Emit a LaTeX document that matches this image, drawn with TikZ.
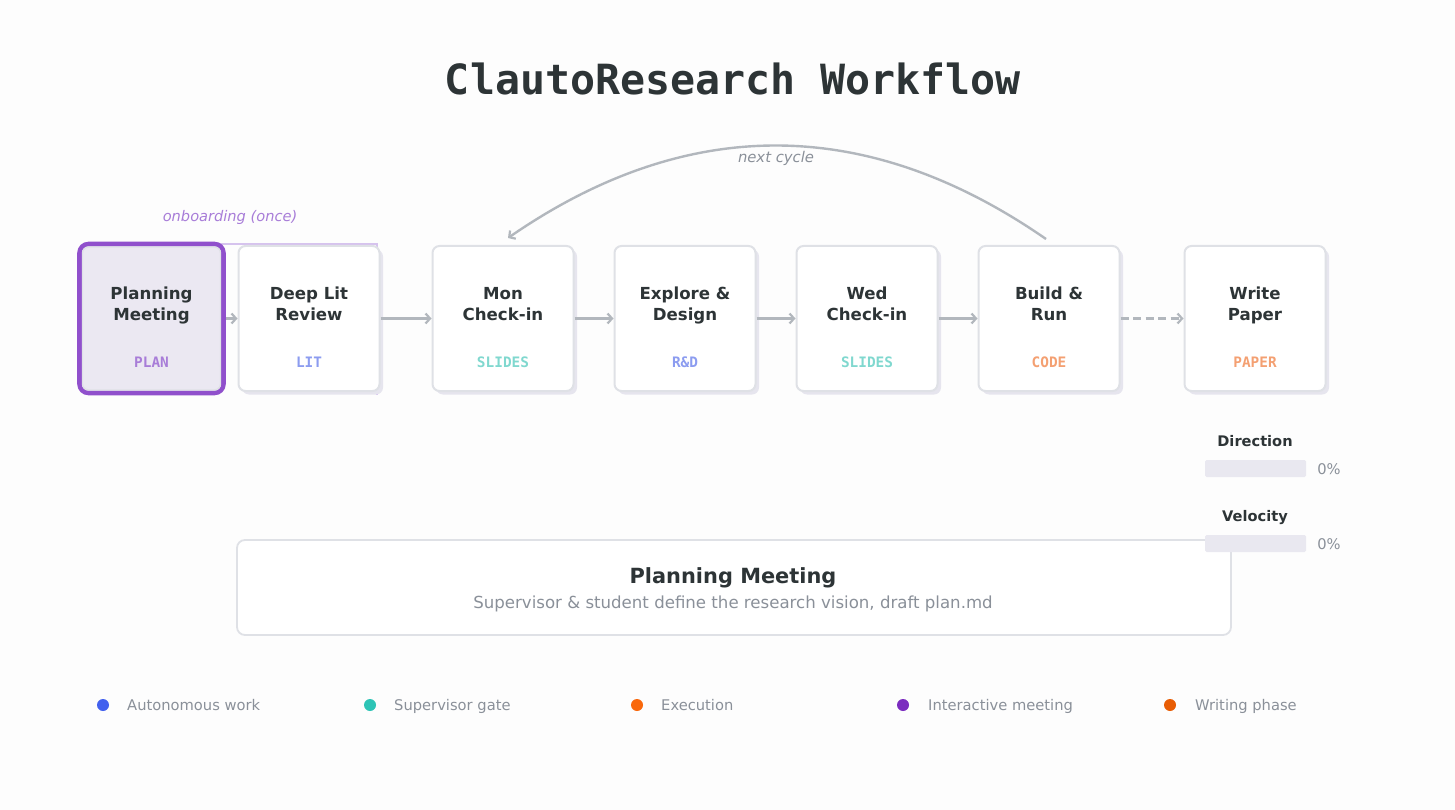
\documentclass[tikz,border=0pt]{standalone}
\usepackage{fontspec}
\setmainfont{DejaVu Sans}
\newfontfamily\monofont{DejaVu Sans Mono}
\usetikzlibrary{arrows.meta}
\definecolor{bg}{HTML}{FDFDFD}
\definecolor{ink}{HTML}{2D3436}
\definecolor{arrowgray}{HTML}{B2B7BD}
\definecolor{textgray}{HTML}{8A9099}
\definecolor{boxline}{HTML}{DFE1E6}
\definecolor{shadowc}{HTML}{E6E5EE}
\definecolor{planfill}{HTML}{EBE8F2}
\definecolor{planborder}{HTML}{9050CC}
\definecolor{onboard}{HTML}{A87DD8}
\definecolor{onboardline}{HTML}{D6C3EE}
\definecolor{tagplan}{HTML}{A87DD8}
\definecolor{tagblue}{HTML}{8C9CF0}
\definecolor{tagteal}{HTML}{80D8CF}
\definecolor{tagorange}{HTML}{F4A072}
\definecolor{barfill}{HTML}{E9E8F0}
\definecolor{lgblue}{HTML}{4361EE}
\definecolor{lgteal}{HTML}{2EC4B6}
\definecolor{lgorange}{HTML}{F9680C}
\definecolor{lgpurple}{HTML}{7B2CBF}
\definecolor{lgwrite}{HTML}{E85D04}
\tikzset{
  stagebox/.style={draw=boxline, line width=2pt, fill=white, rounded corners=7pt,
    minimum width=141pt, minimum height=145pt, inner sep=0pt},
  shadowbox/.style={fill=shadowc, rounded corners=7pt,
    minimum width=141pt, minimum height=145pt, inner sep=0pt},
  stagetitle/.style={font=\fontsize{16.6}{21}\selectfont\bfseries, text=ink, align=center, inner sep=0pt, anchor=base},
  stagetag/.style={font=\fontsize{14.4}{16}\selectfont\monofont\bfseries, inner sep=0pt, anchor=base},
  flow/.style={draw=arrowgray, line width=2.4pt, -{Straight Barb[length=4.5pt,width=10pt,line width=2.2pt]}},
  legendtext/.style={font=\fontsize{14.7}{16}\selectfont, text=textgray, anchor=base west, inner sep=0pt},
  dot/.style={circle, inner sep=0pt, minimum size=12pt},
  bar/.style={fill=barfill, rounded corners=1.5pt, minimum width=101pt, minimum height=17pt, inner sep=0pt},
  pct/.style={font=\fontsize{14.7}{16}\selectfont, text=textgray, inner sep=0pt, anchor=base},
  paneltitle/.style={font=\fontsize{14.6}{16}\selectfont\bfseries, text=ink, inner sep=0pt, anchor=base}
}
\begin{document}
\begin{tikzpicture}[x=1pt,y=-1pt]
\useasboundingbox (0,0) rectangle (1455,810);
\fill[bg] (0,0) rectangle (1455,810);

% title
\node[font=\fontsize{41.6}{48}\selectfont\monofont\bfseries, text=ink, inner sep=0pt, anchor=base] (title) at (733,95) {ClautoResearch Workflow};

% onboarding bracket
\coordinate (ob1) at (151,244);
\coordinate (ob2) at (377,244);
\coordinate (ob3) at (377,395);
\draw[onboardline, line width=2pt] (ob1) -- (ob2) -- (ob3);
\node[font=\fontsize{14.6}{16}\selectfont\itshape, text=onboard, inner sep=0pt, anchor=base] (onb) at (230,222) {onboarding (once)};

% shadows
\foreach \n/\x in {s2/309, s3/503, s4/685, s5/867, s6/1049, s7/1255}{
  \node[shadowbox] (\n) at (\x+3.5,322) {};
}

% planning box
\node[draw=planborder, line width=4.6pt, fill=planfill, rounded corners=9pt,
  minimum width=144pt, minimum height=149pt, inner sep=0pt] (plan) at (151.5,318.5) {};
\node[draw=boxline, line width=1.4pt, rounded corners=6pt,
  minimum width=138pt, minimum height=143pt, inner sep=0pt] (planin) at (151.5,318.5) {};

% stage boxes
\node[stagebox] (lit) at (309,318.5) {};
\node[stagebox] (mon) at (503,318.5) {};
\node[stagebox] (exp) at (685,318.5) {};
\node[stagebox] (wed) at (867,318.5) {};
\node[stagebox] (build) at (1049,318.5) {};
\node[stagebox] (write) at (1255,318.5) {};

% titles (base = baseline of last line)
\node[stagetitle] (t1) at (151.5,320) {Planning\\Meeting};
\node[stagetitle] (t2) at (309,320) {Deep Lit\\Review};
\node[stagetitle] (t3) at (503,320) {Mon\\Check-in};
\node[stagetitle] (t4) at (685,320) {Explore \&\\Design};
\node[stagetitle] (t5) at (867,320) {Wed\\Check-in};
\node[stagetitle] (t6) at (1049,320) {Build \&\\Run};
\node[stagetitle] (t7) at (1255,320) {Write\\Paper};

% tags
\node[stagetag, text=tagplan] (g1) at (151.5,367) {PLAN};
\node[stagetag, text=tagblue] (g2) at (309,367) {LIT};
\node[stagetag, text=tagteal] (g3) at (503,367) {SLIDES};
\node[stagetag, text=tagblue] (g4) at (685,367) {R\&D};
\node[stagetag, text=tagteal] (g5) at (867,367) {SLIDES};
\node[stagetag, text=tagorange] (g6) at (1049,367) {CODE};
\node[stagetag, text=tagorange] (g7) at (1255,367) {PAPER};

% flow arrows
\draw[flow] (plan.east) -- (lit.west);
\draw[flow] (lit.east) -- (mon.west);
\draw[flow] (mon.east) -- (exp.west);
\draw[flow] (exp.east) -- (wed.west);
\draw[flow] (wed.east) -- (build.west);
\draw[flow, dash pattern=on 8pt off 4.5pt] (build.east) -- (write.west);

% next cycle
\coordinate (c0) at (1046,239);
\coordinate (c1) at (508,238);
\draw[flow] (c0) .. controls (867,115) and (687,114.5) .. (c1);
\node[font=\fontsize{14.8}{16}\selectfont\itshape, text=textgray, inner sep=0pt, anchor=base] (nc) at (776,163) {next cycle};

% right panel
\node[paneltitle] (dir) at (1255,446) {Direction};
\node[bar] (dirbar) at (1255.5,468.5) {};
\node[pct] (dirpct) at (1329,474) {0\%};
\node[paneltitle] (vel) at (1255,521) {Velocity};

% description box
\node[draw=boxline, line width=1.8pt, fill=white, rounded corners=8pt,
  minimum width=994pt, minimum height=95pt, inner sep=0pt] (desc) at (734,587.5) {};
\node[font=\fontsize{20.9}{24}\selectfont\bfseries, text=ink, inner sep=0pt, anchor=base] (dtitle) at (733,583) {Planning Meeting};
\node[font=\fontsize{16.6}{20}\selectfont, text=textgray, inner sep=0pt, anchor=base] (dsub) at (733,608.5) {Supervisor \& student define the research vision, draft plan.md};

\node[bar] (velbar) at (1255.5,543.5) {};
\node[pct] (velpct) at (1329,549) {0\%};

% legend
\node[dot, fill=lgblue] (d1) at (103,705) {};
\node[legendtext] (l1) at (127,710) {Autonomous work};
\node[dot, fill=lgteal] (d2) at (370,705) {};
\node[legendtext] (l2) at (394,710) {Supervisor gate};
\node[dot, fill=lgorange] (d3) at (637,705) {};
\node[legendtext] (l3) at (661,710) {Execution};
\node[dot, fill=lgpurple] (d4) at (903,705) {};
\node[legendtext] (l4) at (928,710) {Interactive meeting};
\node[dot, fill=lgwrite] (d5) at (1170,705) {};
\node[legendtext] (l5) at (1195,710) {Writing phase};
\end{tikzpicture}
\end{document}
